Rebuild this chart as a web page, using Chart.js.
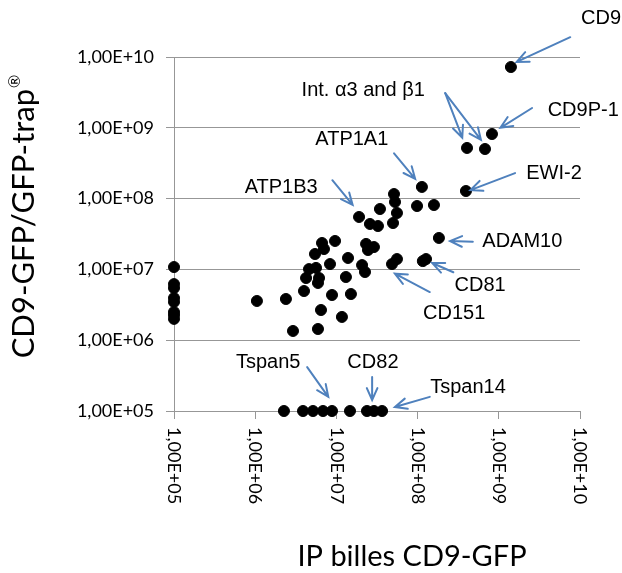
<!DOCTYPE html>
<html>
<head>
<meta charset="utf-8">
<script src="https://cdn.jsdelivr.net/npm/chart.js@4"></script>
<style>
  body { margin: 0; background: #fff; }
  #wrap { width: 622px; height: 573px; }
</style>
</head>
<body>
<div id="wrap"><canvas id="scatter"></canvas></div>
<script>
// --- data ---
const DETECTION_FLOOR = 1e5;
const tickValues = [1e5, 1e6, 1e7, 1e8, 1e9, 1e10];

// proteins seen in both experiments
const cloudX = [1.41e9, 8.24e8, 4.06e8, 6.76e8, 1.13e8, 3.94e8, 5.12e7, 5.27e7, 9.84e7, 1.59e8,
                3.44e7, 5.57e7, 1.90e7, 2.59e7, 3.25e7, 4.98e7, 1.83e8, 9.62e6, 6.65e6, 7.03e6,
                5.45e6, 2.32e7, 2.45e7, 2.90e7, 1.39e7, 8.34e6, 2.07e7, 2.25e7, 4.84e7, 5.57e7,
                1.16e8, 1.27e8, 4.60e6, 5.61e6, 4.23e6, 6.11e6, 5.93e6, 1.31e7, 3.99e6, 1.05e6,
                2.39e6, 8.83e6, 1.51e7, 6.46e6, 1.17e7, 2.92e6, 5.93e6];
const cloudY = [7.22e9, 8.17e8, 5.19e8, 5.02e8, 1.46e8, 1.28e8, 1.16e8, 8.96e7, 7.86e7, 8.12e7,
                7.13e7, 6.26e7, 5.50e7, 4.38e7, 4.10e7, 4.52e7, 2.78e7, 2.52e7, 2.36e7, 1.94e7,
                1.65e7, 2.29e7, 1.88e7, 2.07e7, 1.45e7, 1.19e7, 1.15e7, 9.19e6, 1.19e7, 1.40e7,
                1.31e7, 1.40e7, 1.01e7, 1.05e7, 7.56e6, 7.56e6, 6.43e6, 7.81e6, 4.95e6, 3.58e6,
                3.82e6, 4.35e6, 4.49e6, 2.67e6, 2.13e6, 1.35e6, 1.44e6];

// only in GFP-trap (x at floor) / only in beads IP (y at floor)
const leftColumnY = [1.08e7, 6.2e6, 5.46e6, 3.94e6, 3.47e6, 2.5e6, 2.27e6, 2.0e6];
const bottomRowX = [2.26e6, 3.88e6, 5.15e6, 6.84e6, 8.83e6, 1.47e7, 2.38e7, 2.9e7, 3.65e7];

// annotations, in log10 units: text centre, arrow start, arrow tip(s)
const labelNames = ["CD9", "CD9P-1", "Int. \u03b13 and \u03b21", "ATP1A1", "EWI-2", "ATP1B3",
                    "ADAM10", "CD81", "CD151", "Tspan5", "CD82", "Tspan14"];
const labelPos = [[10.26, 10.55], [10.04, 9.25], [7.33, 9.53], [7.19, 8.83], [9.68, 8.36], [6.32, 8.16],
                  [9.29, 7.40], [8.77, 6.77], [8.45, 6.38], [6.16, 5.68], [7.45, 5.69], [8.62, 5.33]];
const arrowFrom = [[9.88, 10.28], [9.41, 9.28], [8.34, 9.49], [7.71, 8.64], [9.20, 8.36], [6.95, 8.26],
                   [8.68, 7.39], [8.44, 6.96], [8.15, 6.68], [6.64, 5.62], [7.44, 5.48], [8.15, 5.20]];
const arrowTo = [[[9.22, 9.93]], [[9.02, 9.00]], [[8.55, 8.86], [8.78, 8.83]], [[7.97, 8.28]], [[8.65, 8.12]],
                 [[7.20, 7.91]], [[8.40, 7.40]], [[8.18, 7.09]], [[7.72, 6.94]], [[6.90, 5.20]],
                 [[7.44, 5.155]], [[7.72, 5.056]]];

const ARROW_BLUE = '#4f81bd';
const GRID_GREY = '#979797';

function sciLabel(v) {
    const e = Math.round(Math.log10(v));
    return '1,00E+' + String(e).padStart(2, '0');
}

const points = cloudX.map((x, i) => ({ x: x, y: cloudY[i] }))
    .concat(leftColumnY.map(y => ({ x: DETECTION_FLOOR, y: y })))
    .concat(bottomRowX.map(x => ({ x: x, y: DETECTION_FLOOR })));

// rotated x labels, axis titles, arrows and names
const decorPlugin = {
    id: 'decor',
    afterDraw(chart) {
        const ctx = chart.ctx;
        const xs = chart.scales.x, ys = chart.scales.y;
        ctx.save();

        // x tick labels read top to bottom
        ctx.fillStyle = '#000';
        ctx.font = '18px Lato';
        ctx.textAlign = 'left';
        ctx.textBaseline = 'middle';
        tickValues.forEach(v => {
            ctx.save();
            ctx.translate(xs.getPixelForValue(v), ys.bottom + 16);
            ctx.rotate(Math.PI / 2);
            ctx.fillText(sciLabel(v), 0, 0);
            ctx.restore();
        });

        // axis titles
        ctx.font = '29px Lato';
        ctx.textAlign = 'center';
        ctx.textBaseline = 'alphabetic';
        ctx.fillText('IP billes CD9-GFP', 412, 566);

        const main = 'CD9-GFP/GFP-trap', sup = '\u00ae';
        ctx.font = '31px Lato';
        const wMain = ctx.measureText(main).width;
        ctx.font = '16px Lato';
        const wSup = ctx.measureText(sup).width;
        ctx.save();
        ctx.translate(34, 217 + (wMain + wSup) / 2);
        ctx.rotate(-Math.PI / 2);
        ctx.textAlign = 'left';
        ctx.font = '31px Lato';
        ctx.fillText(main, 0, 0);
        ctx.font = '16px Lato';
        ctx.fillText(sup, wMain + 1, -14);
        ctx.restore();

        // annotation arrows
        const px = p => [xs.getPixelForValue(Math.pow(10, p[0])), ys.getPixelForValue(Math.pow(10, p[1]))];
        ctx.strokeStyle = ARROW_BLUE;
        ctx.lineWidth = 2;
        ctx.lineCap = 'round';
        arrowFrom.forEach((from, i) => {
            const a = px(from);
            arrowTo[i].forEach(t => {
                const b = px(t);
                const ang = Math.atan2(b[1] - a[1], b[0] - a[0]);
                const head = 13, spread = 0.42;
                ctx.beginPath();
                ctx.moveTo(a[0], a[1]);
                ctx.lineTo(b[0], b[1]);
                ctx.moveTo(b[0] - head * Math.cos(ang - spread), b[1] - head * Math.sin(ang - spread));
                ctx.lineTo(b[0], b[1]);
                ctx.lineTo(b[0] - head * Math.cos(ang + spread), b[1] - head * Math.sin(ang + spread));
                ctx.stroke();
            });
        });

        // annotation names
        ctx.fillStyle = '#000';
        ctx.font = '20px "Liberation Sans", Arial, sans-serif';
        ctx.textAlign = 'center';
        ctx.textBaseline = 'middle';
        labelNames.forEach((name, i) => {
            const p = px(labelPos[i]);
            ctx.fillText(name, p[0], p[1]);
        });
        ctx.restore();
    }
};

new Chart(document.getElementById('scatter'), {
    type: 'scatter',
    data: {
        datasets: [{
            data: points,
            backgroundColor: '#000',
            borderColor: '#000',
            pointRadius: 5.5,
            pointHoverRadius: 5.5,
            clip: false
        }]
    },
    options: {
        responsive: true,
        maintainAspectRatio: false,
        animation: false,
        layout: { padding: { top: 57, right: 42, left: 0, bottom: 0 } },
        plugins: { legend: { display: false }, tooltip: { enabled: false } },
        scales: {
            x: {
                type: 'logarithmic',
                min: 1e5, max: 1e10,
                afterBuildTicks: s => { s.ticks = tickValues.map(v => ({ value: v })); },
                afterFit: s => { s.height = 162; },
                ticks: { display: false },
                grid: { drawOnChartArea: false, drawTicks: true, tickLength: 8, color: GRID_GREY },
                border: { display: true, color: GRID_GREY }
            },
            y: {
                type: 'logarithmic',
                min: 1e5, max: 1e10,
                afterBuildTicks: s => { s.ticks = tickValues.map(v => ({ value: v })); },
                afterFit: s => { s.width = 174; },
                ticks: {
                    callback: v => sciLabel(v),
                    font: { family: 'Lato', size: 18 },
                    color: '#000',
                    padding: 12,
                    autoSkip: false
                },
                grid: { color: GRID_GREY, drawTicks: true, tickLength: 8 },
                border: { display: true, color: GRID_GREY }
            }
        }
    },
    plugins: [decorPlugin]
});
</script>
</body>
</html>
